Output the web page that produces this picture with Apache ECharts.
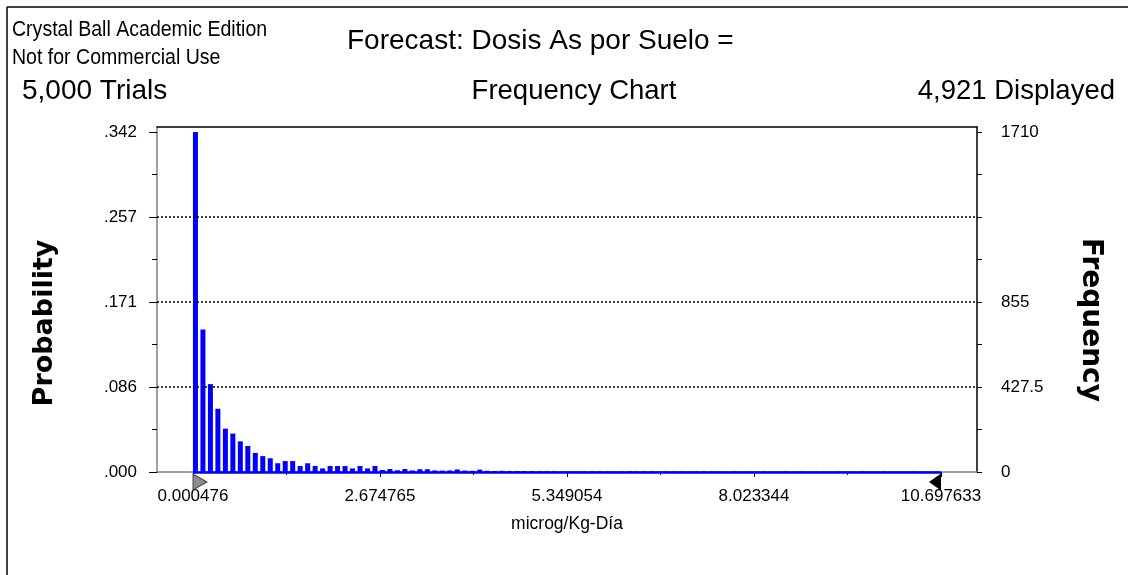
<!DOCTYPE html>
<html><head><meta charset="utf-8">
<script src="https://cdn.jsdelivr.net/npm/echarts@6/dist/echarts.min.js"></script>
<style>html,body{margin:0;padding:0;background:#fff}#c{width:1128px;height:575px}</style>
</head><body><div id="c"></div>
<script>
// ---- data ----
const xLo = 0.000476, xHi = 10.697633;
const xTickLabels = ['0.000476', '2.674765', '5.349054', '8.023344', '10.697633'];
const freqTicks = [0, 427.5, 855, 1282.5, 1710];
const freqMinorTicks = [213.75, 641.25, 1068.75, 1496.25];
const probLabels = ['.000', '.086', '.171', '.257', '.342'];
const freqLabels = ['0', '427.5', '855', '', '1710'];
const frequencies = [
  1710, 717, 442, 318, 218, 193, 154, 131, 96, 80,
  69, 44, 55, 55, 30, 44, 30, 18, 30, 30,
  30, 18, 30, 18, 30, 10, 15, 9, 15, 8,
  14, 14, 8, 7, 8, 13, 7, 6, 12, 6,
  5, 6, 5, 5, 5, 5, 4, 4, 4, 4,
  4, 4, 3, 3, 4, 3, 3, 3, 4, 3,
  3, 3, 2, 3, 3, 3, 2, 3, 3, 2,
  3, 2, 3, 2, 3, 2, 3, 2, 2, 3,
  2, 3, 2, 2, 3, 2, 3, 2, 2, 3,
  2, 2, 3, 2, 2, 2, 3, 2, 2, 2
];
const headerLeft = ['Crystal Ball Academic Edition', 'Not for Commercial Use'];
const titleText = 'Forecast: Dosis As por Suelo =';
const trialsText = '5,000 Trials';
const chartText = 'Frequency Chart';
const displayedText = '4,921 Displayed';
const xName = 'microg/Kg-Día';
const leftName = 'Probability';
const rightName = 'Frequency';

// ---- build ----
const binW = (xHi - xLo) / frequencies.length;
const barData = frequencies.map((f, k) => [xLo + (k + 0.33) * binW, f]);
const xMajor = xTickLabels.map(Number);
const xMinor = xMajor.slice(0, -1).map((v, i) => (v + xMajor[i + 1]) / 2);
const pad = (xHi - xLo) * 0.0481;
const xMin = xLo - pad, xMax = xHi + pad;
const yMax = 1735;
const allFreqTicks = freqTicks.concat(freqMinorTicks).sort((a, b) => a - b);

const font = "'Liberation Sans', Arial, sans-serif";
const dotted = { color: '#000', type: [2, 2], width: 1.6 };

const chart = echarts.init(document.getElementById('c'));
chart.setOption({
  animation: false,
  backgroundColor: '#fff',
  grid: { left: 157, right: 151, top: 127, bottom: 103, show: false },
  xAxis: [
    {
      type: 'value', position: 'bottom', min: xMin, max: xMax,
      axisLine: { show: true, onZero: false, lineStyle: { color: '#808080', width: 1.5 } },
      axisTick: { show: true, customValues: xMajor, length: 5, lineStyle: { color: '#000' } },
      axisLabel: {
        customValues: xMajor, margin: 16, color: '#000', fontFamily: font, fontSize: 17,
        formatter: v => xTickLabels[xMajor.indexOf(v)]
      },
      splitLine: { show: false },
      name: xName, nameLocation: 'middle', nameGap: 43,
      nameTextStyle: { color: '#000', fontFamily: font, fontSize: 17.5 }
    },
    {
      type: 'value', position: 'bottom', min: xMin, max: xMax,
      axisLine: { show: false, onZero: false },
      axisTick: { show: true, customValues: xMinor, length: 3, lineStyle: { color: '#000' } },
      axisLabel: { show: false }, splitLine: { show: false }
    },
    {
      type: 'value', position: 'top', min: xMin, max: xMax,
      axisLine: { show: true, onZero: false, lineStyle: { color: '#000', width: 1.5 } },
      axisTick: { show: false }, axisLabel: { show: false }, splitLine: { show: false }
    }
  ],
  yAxis: [
    {
      type: 'value', position: 'left', min: 0, max: yMax,
      axisLine: { show: true, onZero: false, lineStyle: { color: '#808080', width: 1.5 } },
      axisTick: { show: true, customValues: freqTicks, length: 8, lineStyle: { color: '#000' } },
      axisLabel: {
        customValues: freqTicks, margin: 20, color: '#000', fontFamily: font, fontSize: 17,
        formatter: v => probLabels[freqTicks.indexOf(v)]
      },
      splitLine: { show: false }
    },
    {
      type: 'value', position: 'left', min: 0, max: yMax,
      axisLine: { show: false, onZero: false },
      axisTick: { show: true, customValues: freqMinorTicks, length: 5, lineStyle: { color: '#000' } },
      axisLabel: { show: false }, splitLine: { show: false }
    },
    {
      type: 'value', position: 'right', min: 0, max: yMax,
      axisLine: { show: true, onZero: false, lineStyle: { color: '#000', width: 1.5 } },
      axisTick: { show: true, customValues: allFreqTicks, length: 5, lineStyle: { color: '#000' } },
      axisLabel: {
        customValues: freqTicks, margin: 24, color: '#000', fontFamily: font, fontSize: 17,
        formatter: v => freqLabels[freqTicks.indexOf(v)]
      },
      splitLine: { show: false }
    }
  ],
  series: [{
    type: 'bar', xAxisIndex: 0, yAxisIndex: 0, data: barData, barWidth: 5,
    itemStyle: { color: '#0000ff' }, clip: false, silent: true,
    markLine: {
      silent: true, symbol: 'none', label: { show: false },
      data: [
        { yAxis: freqTicks[1], lineStyle: dotted },
        { yAxis: freqTicks[2], lineStyle: dotted },
        { yAxis: freqTicks[3], lineStyle: dotted },
        [
          { coord: [xLo, 0], lineStyle: { color: '#0000ff', type: 'solid', width: 2.5 } },
          { coord: [xHi, 0] }
        ]
      ]
    },
    markPoint: {
      silent: true, label: { show: false },
      data: [
        { coord: [xLo, 0], symbol: 'path://M0,0L1,0.5L0,1Z', symbolSize: [14, 16], symbolOffset: [7, 10],
          itemStyle: { color: '#8c8c8c', borderColor: '#404040', borderWidth: 1 } },
        { coord: [xHi, 0], symbol: 'path://M1,0L0,0.5L1,1Z', symbolSize: [12, 17], symbolOffset: [-6, 10],
          itemStyle: { color: '#000' } }
      ]
    }
  }],
  graphic: [
    { type: 'line', shape: { x1: 7, y1: 7, x2: 1128, y2: 7 }, style: { stroke: '#000', lineWidth: 1.5 } },
    { type: 'line', shape: { x1: 7, y1: 7, x2: 7, y2: 575 }, style: { stroke: '#000', lineWidth: 1.5 } },
    { type: 'text', x: 12, y: 30, scaleX: 0.888, style: { text: headerLeft[0], font: '22px ' + font, fill: '#000', textVerticalAlign: 'middle' } },
    { type: 'text', x: 12, y: 58, scaleX: 0.888, style: { text: headerLeft[1], font: '22px ' + font, fill: '#000', textVerticalAlign: 'middle' } },
    { type: 'text', x: 347, y: 41, style: { text: titleText, font: '28px ' + font, fill: '#000', textVerticalAlign: 'middle' } },
    { type: 'text', x: 22, y: 91, style: { text: trialsText, font: '28px ' + font, fill: '#000', textVerticalAlign: 'middle' } },
    { type: 'text', x: 574, y: 91, style: { text: chartText, font: '27.5px ' + font, fill: '#000', textAlign: 'center', textVerticalAlign: 'middle' } },
    { type: 'text', x: 1115, y: 91, style: { text: displayedText, font: '27.5px ' + font, fill: '#000', textAlign: 'right', textVerticalAlign: 'middle' } },
    { type: 'text', x: 45, y: 323, rotation: Math.PI / 2, style: { text: leftName, font: 'bold 27px "DejaVu Sans"', fill: '#000', textAlign: 'center', textVerticalAlign: 'middle' } },
    { type: 'text', x: 1090, y: 320, rotation: -Math.PI / 2, style: { text: rightName, font: 'bold 28px "DejaVu Sans"', fill: '#000', textAlign: 'center', textVerticalAlign: 'middle' } }
  ]
});
</script></body></html>
